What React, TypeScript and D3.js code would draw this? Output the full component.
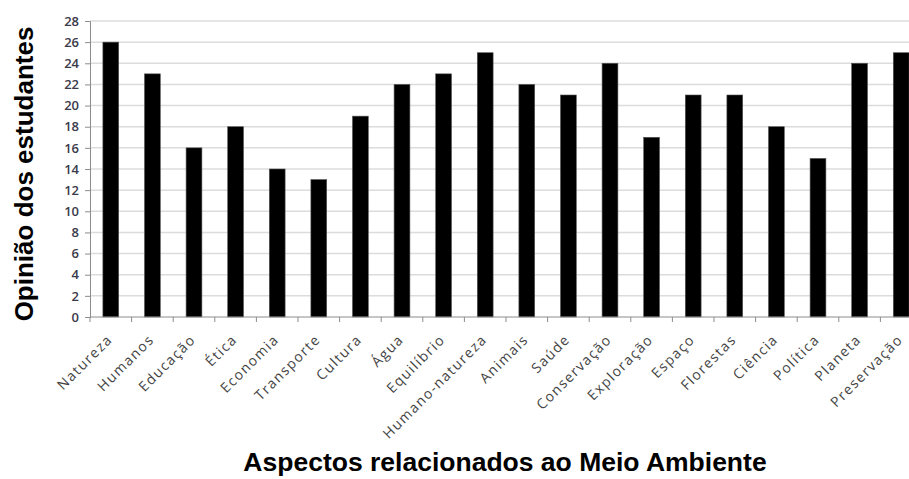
import React, { useEffect, useRef } from 'react';
import * as d3 from 'd3';

const categories = [
  'Natureza', 'Humanos', 'Educação', 'Ética', 'Economia', 'Transporte', 'Cultura', 'Água',
  'Equilíbrio', 'Humano-natureza', 'Animais', 'Saúde', 'Conservação', 'Exploração', 'Espaço',
  'Florestas', 'Ciência', 'Política', 'Planeta', 'Preservação',
];
const values = [26, 23, 16, 18, 14, 13, 19, 22, 23, 25, 22, 21, 24, 17, 21, 21, 18, 15, 24, 25];
const yTicks = d3.range(0, 29, 2);

const App: React.FC = () => {
  const svgRef = useRef<SVGSVGElement | null>(null);

  useEffect(() => {
    const width = 909;
    const height = 479;
    const margin = { top: 21, right: -13, bottom: 162, left: 90 };

    const svg = d3.select(svgRef.current)
      .attr('width', width)
      .attr('height', height)
      .style('background', '#fff');

    svg.selectAll('*').remove();

    const x = d3.scaleBand()
      .domain(categories)
      .range([margin.left, width - margin.right])
      .paddingInner(0.62)
      .paddingOuter(0.31);

    const y = d3.scaleLinear()
      .domain([0, 28])
      .range([height - margin.bottom, margin.top]);

    // gridlines
    svg.append('g')
      .selectAll('line')
      .data(yTicks.filter(d => d > 0))
      .join('line')
      .attr('x1', margin.left)
      .attr('x2', width - margin.right)
      .attr('y1', d => y(d))
      .attr('y2', d => y(d))
      .attr('stroke', '#dcdcdc')
      .attr('stroke-width', 1.5);

    // bars
    svg.append('g')
      .selectAll('rect')
      .data(values)
      .join('rect')
      .attr('x', (_, i) => x(categories[i])!)
      .attr('y', d => y(d))
      .attr('width', x.bandwidth())
      .attr('height', d => y(0) - y(d))
      .attr('fill', '#000')
      .attr('stroke', '#555')
      .attr('stroke-width', 0.6);

    // y axis
    const yAxis = d3.axisLeft(y).tickValues(yTicks).tickSize(5).tickPadding(6);
    const gy = svg.append('g')
      .attr('transform', `translate(${margin.left},0)`)
      .call(yAxis);
    gy.select('.domain').attr('stroke', '#8c8c8c');
    gy.selectAll('.tick line').attr('stroke', '#8c8c8c');
    gy.selectAll('.tick text')
      .attr('fill', '#3a3a4a')
      .style('font-family', '"Open Sans", sans-serif')
      .style('font-size', '13px')
      .style('font-weight', '600');

    // x axis line and ticks at category boundaries
    const step = x.step();
    const x0 = margin.left;
    svg.append('line')
      .attr('x1', x0)
      .attr('x2', width - margin.right)
      .attr('y1', y(0))
      .attr('y2', y(0))
      .attr('stroke', '#8c8c8c');
    svg.append('g')
      .selectAll('line')
      .data(d3.range(categories.length + 1))
      .join('line')
      .attr('x1', i => x0 + i * step)
      .attr('x2', i => x0 + i * step)
      .attr('y1', y(0))
      .attr('y2', y(0) + 5)
      .attr('stroke', '#8c8c8c');

    // category labels
    svg.append('g')
      .selectAll('text')
      .data(categories)
      .join('text')
      .attr('transform', d => `translate(${x(d)! + x.bandwidth() / 2 - 1},${y(0) + 20}) rotate(-45)`)
      .attr('text-anchor', 'end')
      .attr('dy', '0.35em')
      .attr('fill', '#444')
      .style('font-family', '"Open Sans", sans-serif')
      .style('font-size', '14px')
      .style('letter-spacing', '1.4px')
      .text(d => d);

    // axis titles
    svg.append('text')
      .attr('transform', `translate(33,${(margin.top + y(0)) / 2 + 5}) rotate(-90)`)
      .attr('text-anchor', 'middle')
      .style('font-family', '"Liberation Sans", Arial, sans-serif')
      .style('font-size', '26px')
      .style('font-weight', 'bold')
      .attr('fill', '#000')
      .text('Opinião dos estudantes');

    svg.append('text')
      .attr('x', 505)
      .attr('y', 471)
      .attr('text-anchor', 'middle')
      .style('font-family', '"Liberation Sans", Arial, sans-serif')
      .style('font-size', '26.5px')
      .style('font-weight', 'bold')
      .attr('fill', '#000')
      .text('Aspectos relacionados ao Meio Ambiente');
  }, []);

  return (
    <div style={{ position: 'absolute', left: 0, top: 0 }}>
      <svg ref={svgRef} style={{ display: 'block' }}></svg>
    </div>
  );
};

export default App;
